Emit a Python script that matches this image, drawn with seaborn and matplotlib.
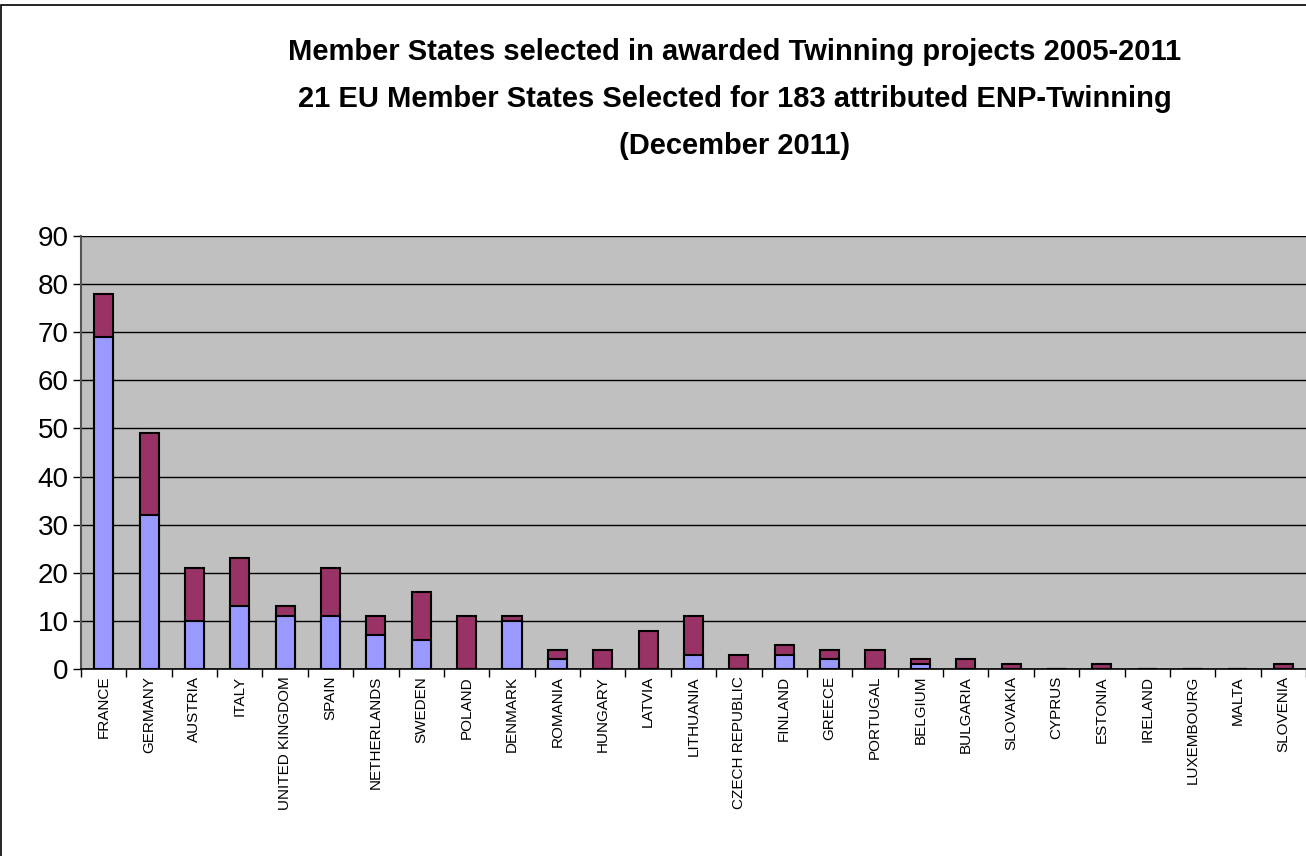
import matplotlib
matplotlib.use("Agg")
import matplotlib.pyplot as plt
import numpy as np
import pandas as pd
import seaborn as sns

countries = ["FRANCE", "GERMANY", "AUSTRIA", "ITALY", "UNITED KINGDOM", "SPAIN",
             "NETHERLANDS", "SWEDEN", "POLAND", "DENMARK", "ROMANIA", "HUNGARY",
             "LATVIA", "LITHUANIA", "CZECH REPUBLIC", "FINLAND", "GREECE", "PORTUGAL",
             "BELGIUM", "BULGARIA", "SLOVAKIA", "CYPRUS", "ESTONIA", "IRELAND",
             "LUXEMBOURG", "MALTA", "SLOVENIA"]
lower = [69, 32, 10, 13, 11, 11, 7, 6, 0, 10, 2, 0, 0, 3, 0, 3, 2, 0,
         1, 0, 0, 0, 0, 0, 0, 0, 0]
upper = [9, 17, 11, 10, 2, 10, 4, 10, 11, 1, 2, 4, 8, 8, 3, 2, 2, 4,
         1, 2, 1, 0, 1, 0, 0, 0, 1]

BLUE = "#9999FF"
PURPLE = "#993366"

df = pd.DataFrame({"country": countries, "lower": lower, "upper": upper})
df["total"] = df["lower"] + df["upper"]

sns.set_theme(style="white")
plt.rcParams["font.family"] = ["Liberation Sans", "DejaVu Sans"]
plt.rcParams["text.color"] = "black"
plt.rcParams["xtick.color"] = "black"
plt.rcParams["ytick.color"] = "black"

fig = plt.figure(figsize=(13.06, 8.56), dpi=100)
ax = fig.add_axes([81 / 1306, 1 - 669 / 856, 1225 / 1306, 433 / 856])
ax.set_facecolor("#C0C0C0")

sns.barplot(data=df, x="country", y="total", color=PURPLE, saturation=1,
            width=0.42, edgecolor="black", linewidth=1.5, ax=ax, zorder=3)
sns.barplot(data=df, x="country", y="lower", color=BLUE, saturation=1,
            width=0.42, edgecolor="black", linewidth=1.5, ax=ax, zorder=3)

ax.set_ylim(0, 90)
ax.set_xlim(-0.5, len(countries) - 0.5)
ax.set_yticks(range(0, 91, 10))
ax.yaxis.grid(True, color="black", linewidth=1)
ax.set_axisbelow(True)
ax.tick_params(axis="y", labelsize=20, length=6, width=1, direction="out", left=True, pad=3)
ax.tick_params(axis="x", which="major", labelsize=11, rotation=90, length=0, pad=5)
ax.set_xticks(np.arange(-0.5, len(countries), 1), minor=True)
ax.tick_params(axis="x", which="minor", length=6, width=1, direction="out", bottom=True)
ax.set_xlabel("")
ax.set_ylabel("")
for side in ["top", "right"]:
    ax.spines[side].set_visible(False)
ax.spines["left"].set_color("#555555")
ax.spines["left"].set_linewidth(1.5)
ax.spines["bottom"].set_color("black")
ax.spines["bottom"].set_linewidth(1.2)

title_font = ["Liberation Sans Narrow", "Liberation Sans", "DejaVu Sans"]
titles = ["Member States selected in awarded Twinning projects 2005-2011",
          "21 EU Member States Selected for 183 attributed ENP-Twinning",
          "(December 2011)"]
for i, t in enumerate(titles):
    fig.text(735 / 1306, 1 - (52 + 47 * i) / 856, t, ha="center", va="center",
             fontsize=21, fontweight="bold", family=title_font)

# outer chart frame
fig.patches.append(plt.Rectangle((0.001, -0.01), 1.2, 1.004, transform=fig.transFigure,
                                 fill=False, edgecolor="black", linewidth=1.2))

fig.savefig("out.png", dpi=100)
